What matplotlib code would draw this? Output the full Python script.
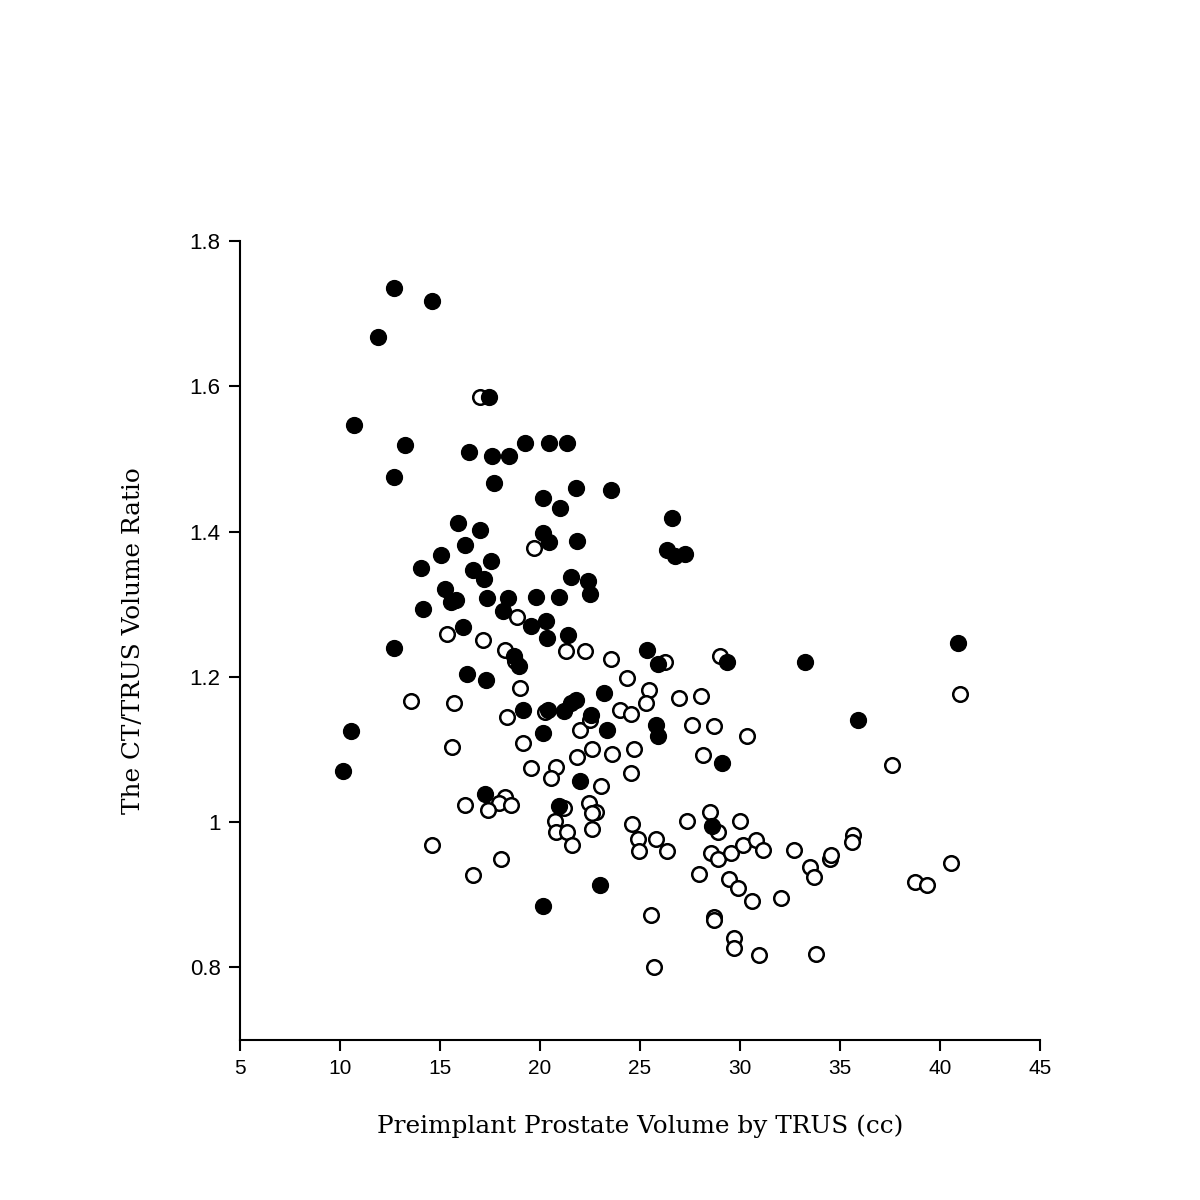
import matplotlib
matplotlib.use("Agg")
import matplotlib.pyplot as plt

# Filled markers (group 1)
filled_x = [12.7, 14.6, 11.9, 17.45, 10.7, 13.25, 16.45, 17.6, 18.45, 19.25, 20.45, 21.35,
            12.7, 17.7, 21.8, 23.55, 20.15, 21.0, 26.6, 15.9, 17.0, 20.15, 20.45, 21.85,
            16.25, 26.35, 26.75, 27.25, 15.05, 17.55, 14.05, 16.65, 17.2, 21.55, 22.4, 15.25,
            22.5, 19.8, 20.95, 18.4, 15.55, 15.8, 17.35, 18.15, 14.15, 20.3, 19.55, 16.15,
            21.4, 20.35, 12.7, 40.9, 25.35, 18.7, 18.95, 25.9, 29.35, 33.25, 16.35, 17.3,
            23.2, 21.8, 21.55, 35.9, 19.15, 20.4, 21.2, 22.55, 25.8, 25.9, 10.55, 23.35,
            20.15, 29.1, 10.15, 22.0, 17.25, 20.95, 28.6, 23.0, 20.15]
filled_y = [1.735, 1.717, 1.668, 1.585, 1.546, 1.519, 1.510, 1.504, 1.504, 1.522, 1.522, 1.522,
            1.475, 1.467, 1.460, 1.457, 1.446, 1.433, 1.418, 1.412, 1.402, 1.398, 1.385, 1.387,
            1.382, 1.375, 1.367, 1.369, 1.368, 1.360, 1.350, 1.347, 1.334, 1.338, 1.332, 1.321,
            1.314, 1.310, 1.310, 1.309, 1.303, 1.306, 1.309, 1.290, 1.294, 1.277, 1.270, 1.268,
            1.257, 1.254, 1.240, 1.247, 1.237, 1.229, 1.215, 1.217, 1.220, 1.220, 1.204, 1.195,
            1.178, 1.168, 1.164, 1.140, 1.155, 1.155, 1.153, 1.148, 1.134, 1.118, 1.125, 1.127,
            1.122, 1.082, 1.070, 1.057, 1.039, 1.022, 0.995, 0.914, 0.884]

# Open markers (group 2)
open_x = [17.0, 19.7, 18.85, 15.35, 17.15, 18.25, 21.3, 22.25, 23.55, 26.25, 29.0, 18.75,
          13.55, 15.7, 24.35, 25.45, 26.95, 28.05, 19.0, 25.3, 24.0, 24.55, 18.35, 20.25,
          22.0, 22.5, 27.6, 28.7, 30.35, 15.6, 19.15, 22.6, 24.7, 23.6, 28.15, 21.85,
          19.55, 20.8, 20.55, 24.55, 37.6, 23.05, 41.0, 18.25, 17.95, 18.55, 16.25, 17.4,
          22.45, 21.2, 22.8, 22.6, 20.75, 20.8, 21.35, 22.6, 24.6, 21.6, 14.6, 27.35,
          28.5, 28.9, 30.0, 24.9, 25.8, 24.95, 26.35, 28.55, 28.9, 29.55, 30.15, 30.8,
          31.15, 32.7, 33.5, 33.7, 34.5, 34.55, 35.65, 35.6, 16.65, 18.05, 27.95, 29.45,
          29.9, 30.6, 32.05, 38.75, 39.35, 40.55, 25.55, 28.7, 28.7, 29.7, 29.7, 30.95,
          33.8, 25.7]
open_y = [1.585, 1.378, 1.283, 1.259, 1.251, 1.237, 1.235, 1.235, 1.225, 1.220, 1.229, 1.222,
          1.167, 1.164, 1.198, 1.182, 1.171, 1.173, 1.185, 1.164, 1.155, 1.149, 1.145, 1.152,
          1.127, 1.141, 1.134, 1.132, 1.118, 1.104, 1.109, 1.101, 1.100, 1.094, 1.092, 1.089,
          1.075, 1.076, 1.061, 1.067, 1.079, 1.049, 1.177, 1.035, 1.026, 1.023, 1.024, 1.016,
          1.026, 1.019, 1.014, 1.012, 1.002, 0.986, 0.987, 0.991, 0.997, 0.969, 0.969, 1.002,
          1.014, 0.987, 1.002, 0.977, 0.977, 0.960, 0.960, 0.957, 0.949, 0.957, 0.969, 0.975,
          0.962, 0.962, 0.938, 0.924, 0.949, 0.955, 0.982, 0.972, 0.927, 0.949, 0.929, 0.922,
          0.909, 0.891, 0.896, 0.918, 0.914, 0.943, 0.872, 0.870, 0.865, 0.841, 0.826, 0.817,
          0.819, 0.800]

x_ticks = [5, 10, 15, 20, 25, 30, 35, 40, 45]
y_ticks = [0.8, 1.0, 1.2, 1.4, 1.6, 1.8]
y_tick_labels = ["0.8", "1", "1.2", "1.4", "1.6", "1.8"]

fig = plt.figure(figsize=(12, 12), dpi=100)
ax = fig.add_axes([0.2, 1 - 1040 / 1200, 0.8667 - 0.2, (1040 - 241) / 1200])

ax.scatter(open_x, open_y, s=110, facecolors="white", edgecolors="black",
           linewidths=1.8, zorder=3)
ax.scatter(filled_x, filled_y, s=130, facecolors="black", edgecolors="black",
           linewidths=1.0, zorder=4)

ax.set_xlim(5, 45)
ax.set_ylim(0.7, 1.8)
ax.set_xticks(x_ticks)
ax.set_xticklabels([str(t) for t in x_ticks])
ax.set_yticks(y_ticks)
ax.set_yticklabels(y_tick_labels)

for s in ["top", "right"]:
    ax.spines[s].set_visible(False)
for s in ["left", "bottom"]:
    ax.spines[s].set_linewidth(1.5)

ax.tick_params(direction="out", length=8, width=1.5, pad=6)
for lab in ax.get_xticklabels():
    lab.set_family("Liberation Sans")
    lab.set_fontsize(15)
for lab in ax.get_yticklabels():
    lab.set_family("Liberation Sans")
    lab.set_fontsize(16)

ax.set_xlabel("Preimplant Prostate Volume by TRUS (cc)", family="DejaVu Serif",
              fontsize=17.8, labelpad=26)
ax.set_ylabel("The CT/TRUS Volume Ratio", family="DejaVu Serif",
              fontsize=17.8, labelpad=32)

fig.savefig("out.png", dpi=100, facecolor="white")
